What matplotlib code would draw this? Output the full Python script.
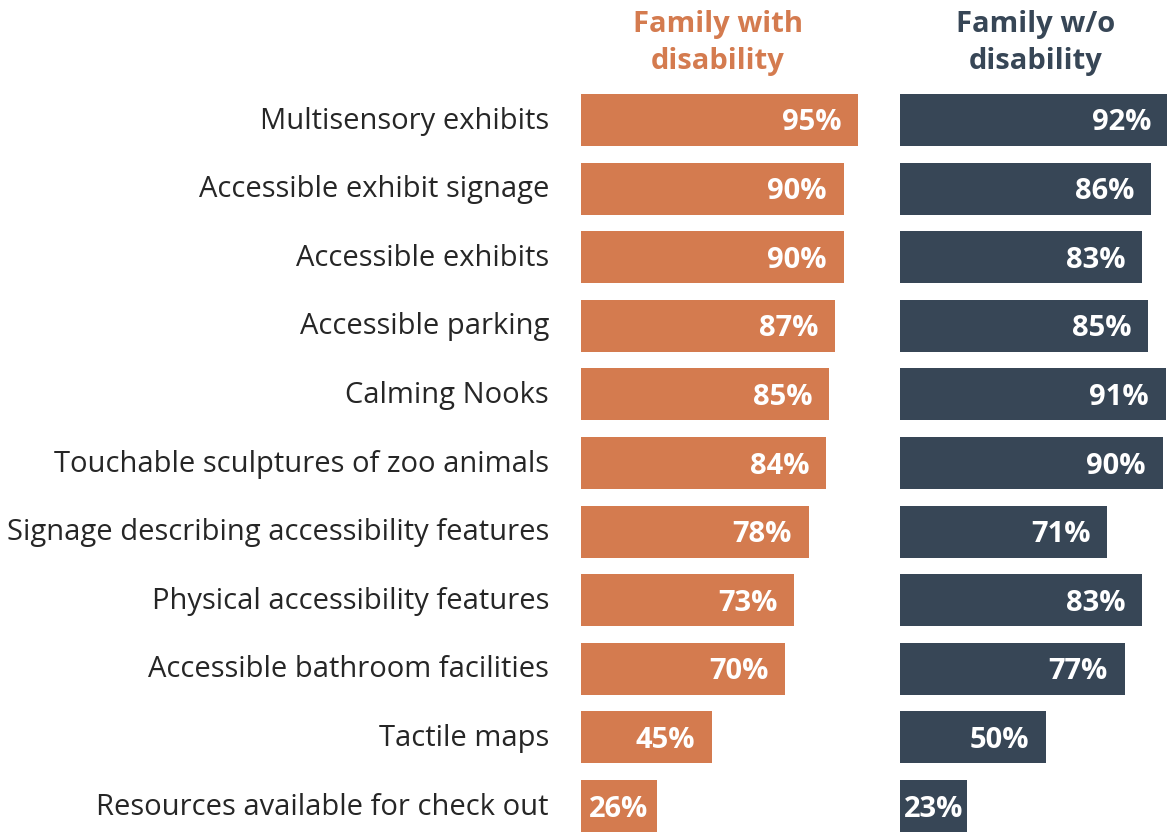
import matplotlib
matplotlib.use("Agg")
import matplotlib.pyplot as plt

plt.rcParams['font.family'] = ['Open Sans', 'DejaVu Sans']

categories = [
    "Multisensory exhibits",
    "Accessible exhibit signage",
    "Accessible exhibits",
    "Accessible parking",
    "Calming Nooks",
    "Touchable sculptures of zoo animals",
    "Signage describing accessibility features",
    "Physical accessibility features",
    "Accessible bathroom facilities",
    "Tactile maps",
    "Resources available for check out",
]
with_disability = [95, 90, 90, 87, 85, 84, 78, 73, 70, 45, 26]
without_disability = [92, 86, 83, 85, 91, 90, 71, 83, 77, 50, 23]
series_titles = ["Family with\ndisability", "Family w/o\ndisability"]
series_colors = ["#D47B4F", "#374656"]

W, H = 1167, 832
fig = plt.figure(figsize=(W / 100, H / 100), dpi=100)

n = len(categories)
row_top = 85.7
row_h = 68.6
ax_h = row_h * n
ax_w = 292
lefts = [581, 900]
fs = 21

axes = []
for left, vals, color in zip(lefts, [with_disability, without_disability], series_colors):
    ax = fig.add_axes([left / W, 1 - (row_top + ax_h) / H, ax_w / W, ax_h / H])
    ax.set_xlim(0, 100)
    ax.set_ylim(n - 0.5, -0.5)
    ax.barh(range(n), vals, height=0.76, color=color)
    for i, v in enumerate(vals):
        # labels sit at the bar end; short bars get them centred instead
        if v - 5.8 - 21 > 0:
            x, ha = v - 5.8, 'right'
        else:
            x, ha = v / 2, 'center'
        ax.annotate(f"{v}%", xy=(x, i), xytext=(0, -3), textcoords='offset pixels',
                    ha=ha, va='center', color='white', fontsize=fs, fontweight='bold')
    ax.axis('off')
    axes.append(ax)

for x, title, color in zip([718, 1036], series_titles, series_colors):
    fig.text(x / W, 1 - 43 / H, title, ha='center', va='center',
             color=color, fontsize=fs, fontweight='bold', linespacing=1.35)

ax0 = axes[0]
for i, c in enumerate(categories):
    ax0.annotate(c, xy=(0, i), xycoords=('axes fraction', 'data'),
                 xytext=(-32, -1), textcoords='offset pixels',
                 ha='right', va='center', fontsize=fs, color='#262626')

fig.savefig("out.png", dpi=100)
